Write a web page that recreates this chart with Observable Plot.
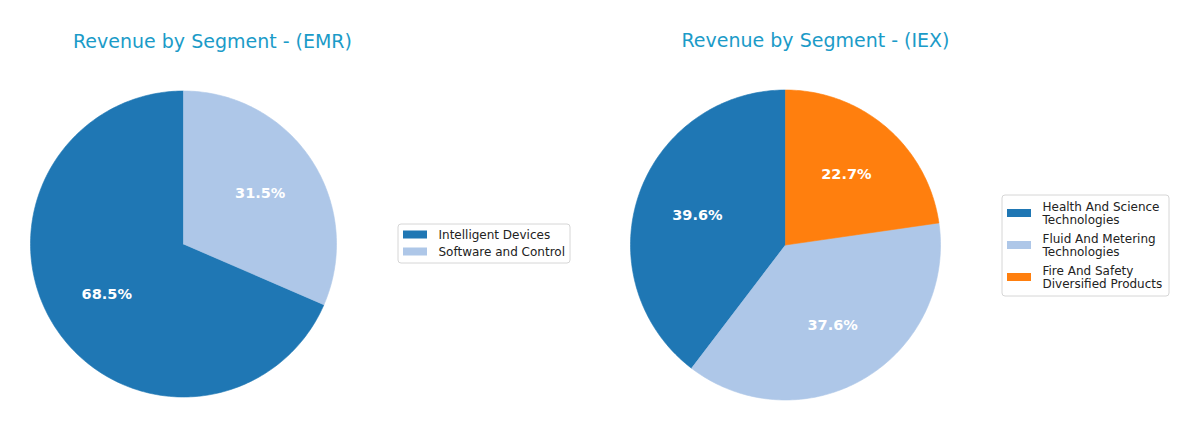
<!DOCTYPE html>
<html><head><meta charset="utf-8">
<script src="https://cdn.jsdelivr.net/npm/d3@7"></script>
<script src="https://cdn.jsdelivr.net/npm/@observablehq/plot@0.6"></script>
<style>body{margin:0;background:#fff;}</style>
</head><body><div id="chart"></div>
<script>
// ---- data ----
const titles = ["Revenue by Segment - (EMR)", "Revenue by Segment - (IEX)"];
const emrSegments = ["Intelligent Devices", "Software and Control"];
const emrShares = [68.5, 31.5];
const emrLegendLabels = ["Intelligent Devices", "Software and Control"];
const iexSegments = ["Health And Science Technologies", "Fluid And Metering Technologies", "Fire And Safety Diversified Products"];
const iexShares = [39.6, 37.6, 22.7];
const iexLegendLabels = ["Health And Science\nTechnologies", "Fluid And Metering\nTechnologies", "Fire And Safety\nDiversified Products"];
const segmentColors = ["#1f77b4", "#aec7e8", "#1f77b4", "#aec7e8", "#ff7f0e"];

// ---- layout ----
const FONT = "DejaVu Sans, Liberation Sans, sans-serif";
const TITLE_COLOR = "#1b9bc8";
const pies = [
  {segments: emrSegments, shares: emrShares, labels: emrLegendLabels, cx: 183, cy: 243.5, r: 153,
   title: {x: 212, y: 41}, legend: {x1: 398, x2: 570, y1: 224, y2: 263, row0: 234.5, step: 17}},
  {segments: iexSegments, shares: iexShares, labels: iexLegendLabels, cx: 785, cy: 244.5, r: 155,
   title: {x: 815, y: 40}, legend: {x1: 1002, x2: 1169, y1: 195, y2: 296, row0: 213, step: 32}}
];

const wedgePoints = [], pctLabels = [], legendRows = [], frames = [], titleRows = [];
pies.forEach((p, pi) => {
  const total = d3.sum(p.shares);
  let start = 90;
  p.segments.forEach((seg, i) => {
    const sweep = p.shares[i] / total * 360;
    const n = Math.max(2, Math.ceil(sweep));
    wedgePoints.push({seg, x: p.cx, y: p.cy});
    for (let k = 0; k <= n; k++) {
      const a = (start + sweep * k / n) * Math.PI / 180;
      wedgePoints.push({seg, x: p.cx + p.r * Math.cos(a), y: p.cy - p.r * Math.sin(a)});
    }
    wedgePoints.push({seg, x: p.cx, y: p.cy});
    const mid = (start + sweep / 2) * Math.PI / 180;
    pctLabels.push({x: p.cx + 0.6 * p.r * Math.cos(mid), y: p.cy - 0.6 * p.r * Math.sin(mid),
                    text: (p.shares[i] / total * 100).toFixed(1) + "%"});
    const L = p.legend;
    const yc = L.row0 + i * L.step;
    legendRows.push({seg, label: p.labels[i], x1: L.x1 + 5, x2: L.x1 + 29, y1: yc - 4, y2: yc + 4, tx: L.x1 + 40, ty: yc - 0.5});
    start += sweep;
  });
  frames.push(p.legend);
  titleRows.push({x: p.title.x, y: p.title.y, text: titles[pi]});
});

const chart = Plot.plot({
  width: 1200, height: 430, margin: 0,
  style: {fontFamily: FONT, background: "#fff"},
  x: {domain: [0, 1200], axis: null},
  y: {domain: [0, 430], range: [0, 430], axis: null},
  color: {domain: [...emrSegments, ...iexSegments], range: segmentColors},
  marks: [
    Plot.line(wedgePoints, {x: "x", y: "y", z: "seg", fill: "seg", stroke: "seg", strokeWidth: 0.6, curve: "linear"}),
    Plot.text(pctLabels, {x: "x", y: "y", text: "text", fill: "white", fontWeight: "bold", fontSize: 14.5, textAnchor: "middle", lineAnchor: "middle"}),
    Plot.text(titleRows, {x: "x", y: "y", text: "text", fill: TITLE_COLOR, fontSize: 19, textAnchor: "middle", lineAnchor: "middle"}),
    Plot.rect(frames, {x1: "x1", x2: "x2", y1: "y1", y2: "y2", fill: "white", stroke: "#d6d6d6", strokeWidth: 1, rx: 3}),
    Plot.rect(legendRows, {x1: "x1", x2: "x2", y1: "y1", y2: "y2", fill: "seg"}),
    Plot.text(legendRows, {x: "tx", y: "ty", text: "label", fill: "#222", fontSize: 12, textAnchor: "start", lineAnchor: "middle", lineHeight: 1.15})
  ]
});
document.getElementById("chart").appendChild(chart);
</script>
</body></html>
